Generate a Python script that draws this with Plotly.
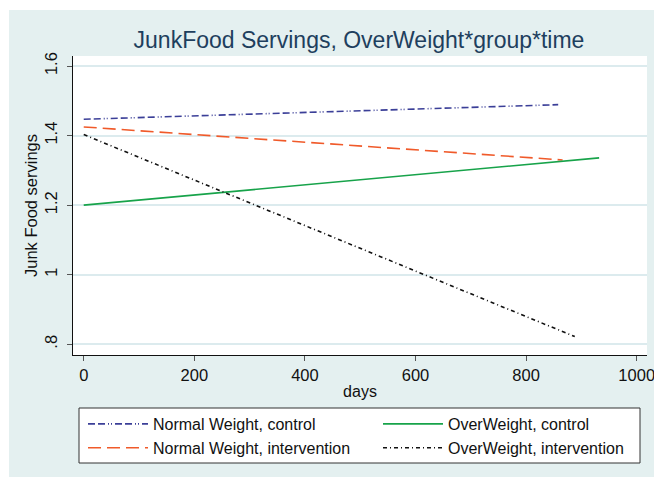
import plotly.graph_objects as go

# Fitted junk food servings over time, by weight status and study group
series_names = [
    "Normal Weight, control",
    "Normal Weight, intervention",
    "OverWeight, control",
    "OverWeight, intervention",
]
days_start = [0, 0, 0, 0]
days_end = [858, 866, 932, 888]
servings_start = [1.447, 1.425, 1.200, 1.403]
servings_end = [1.489, 1.330, 1.336, 0.822]

x_ticks = [0, 200, 400, 600, 800, 1000]
y_ticks = [0.8, 1.0, 1.2, 1.4, 1.6]
y_tick_labels = [".8", "1", "1.2", "1.4", "1.6"]

colors = ["#3b3f98", "#f05a2a", "#17a34a", "#111111"]
dashes = ["7px,3px,7px,3px,1px,2px,1px,3px", "13px,6px", "solid", "4px,3px,1px,3px"]
legend_ids = ["legend", "legend", "legend2", "legend2"]

W, H = 654, 479
L, R, T, B = 73, 7, 56, 124
pw, ph = W - L - R, H - T - B


def px_x(p):
    return (p - L) / pw


def px_y(p):
    return (H - B - p) / ph


fig = go.Figure()
for i, name in enumerate(series_names):
    fig.add_trace(go.Scatter(
        x=[days_start[i], days_end[i]],
        y=[servings_start[i], servings_end[i]],
        mode="lines",
        name=name,
        legend=legend_ids[i],
        line=dict(color=colors[i], width=1.6, dash=dashes[i]),
    ))

bg = "#e4f0f0"
grid = "#dcebee"

legend_style = dict(
    orientation="v",
    y=px_y(407), yanchor="top",
    bgcolor="rgba(0,0,0,0)", borderwidth=0,
    itemwidth=60,
    tracegroupgap=0,
    font=dict(size=16),
)

fig.update_layout(
    width=W, height=H,
    margin=dict(l=L, r=R, t=T, b=B, autoexpand=False),
    paper_bgcolor="white",
    plot_bgcolor="white",
    font=dict(family="Liberation Sans, Arial, sans-serif", size=16, color="#111111"),
    shapes=[
        dict(type="rect", xref="paper", yref="paper", layer="below",
             x0=px_x(9), x1=px_x(654), y0=px_y(477), y1=px_y(10),
             fillcolor=bg, line=dict(width=0)),
        dict(type="rect", xref="paper", yref="paper", layer="below",
             x0=0, x1=1, y0=0, y1=1, fillcolor="white", line=dict(width=0)),
        # frame around the two legend columns
        dict(type="rect", xref="paper", yref="paper", layer="above",
             x0=px_x(79), x1=px_x(640), y0=px_y(463), y1=px_y(408),
             fillcolor="white", line=dict(color="#333333", width=1)),
    ],
    title=dict(
        text="JunkFood Servings, OverWeight*group*time",
        x=px_x(359), xref="paper", xanchor="center",
        y=1 - 40 / H, yref="container", yanchor="middle",
        font=dict(size=23, color="#1e3f5e"),
    ),
    xaxis=dict(
        range=[-19.4, 1018.6],
        tickvals=x_ticks,
        ticks="outside", ticklen=5, tickcolor="#555555", tickwidth=1,
        ticklabeloverflow="allow",
        showgrid=False, zeroline=False,
        showline=True, linecolor="#111111", linewidth=1.2,
        title=dict(text="days", standoff=2, font=dict(size=16)),
        tickfont=dict(size=16.5),
    ),
    yaxis=dict(
        range=[0.769, 1.629],
        tickvals=y_ticks, ticktext=y_tick_labels,
        tickangle=-90,
        ticks="outside", ticklen=5, tickcolor="#555555", tickwidth=1,
        ticklabelstandoff=3,
        showgrid=True, gridcolor=grid, gridwidth=1.5,
        zeroline=False,
        showline=True, linecolor="#111111", linewidth=1.2,
        title=dict(text="Junk Food servings", standoff=0, font=dict(size=16.5)),
        tickfont=dict(size=16.5),
    ),
    legend=dict(x=px_x(83), xanchor="left", **legend_style),
    legend2=dict(x=px_x(378), xanchor="left", **legend_style),
)

fig.write_html("out.html")
